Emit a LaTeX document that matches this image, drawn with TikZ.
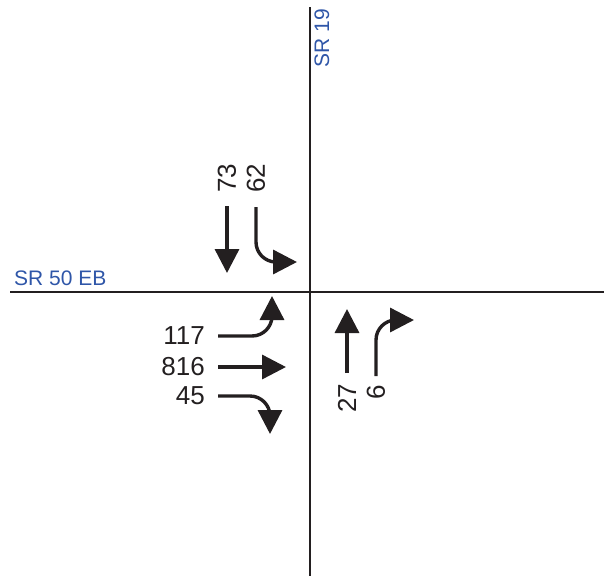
\documentclass[tikz,border=0pt]{standalone}
\usepackage{fontspec}
\setmainfont{Liberation Sans}
\usepackage{tikz}
\usetikzlibrary{arrows.meta}
\definecolor{cInk}{HTML}{231F20}
\definecolor{cRoadName}{HTML}{2F56A8}
\tikzset{
  road/.style={line width=2.6pt,color=cInk},
  mv/.style={-{Triangle[length=24pt,width=24pt]},line width=3.4pt,color=cInk,rounded corners=20pt},
  vol/.style={font=\fontsize{26}{26}\selectfont,text=cInk,inner sep=0pt},
  rname/.style={font=\fontsize{21}{21}\selectfont,text=cRoadName,inner sep=0pt},
}

\begin{document}
\begin{tikzpicture}[x=1pt,y=-1pt]
  \useasboundingbox (0,0) rectangle (604,576);
  % roads
  \coordinate (rdW) at (10,292);
  \coordinate (rdE) at (604,292);
  \coordinate (rdN) at (310,7);
  \coordinate (rdS) at (310,576);
  \draw[road] (rdW) -- (rdE);
  \draw[road] (rdN) -- (rdS);
  \node[rname,anchor=west] (nEB) at (14,278) {SR 50 EB};
  \node[rname,rotate=90] (nSR) at (322,38) {SR 19};
  % southbound
  \node[vol,rotate=90] (n73) at (227,178) {73};
  \node[vol,rotate=90] (n62) at (256,178) {62};
  \coordinate (s73) at (227,206); \coordinate (e73) at (227,273);
  \coordinate (s62) at (256,207); \coordinate (e62) at (297,262);
  \draw[mv] (s73) -- (e73);
  \draw[mv] (s62) |- (e62);
  % eastbound
  \foreach \v/\y in {117/336,816/367,45/396}{
    \node[vol,anchor=east] (n\v) at (205,\y) {\v};
    \coordinate (s\v) at (218,\y);
  }
  \coordinate (e117) at (272,296);
  \coordinate (e816) at (286,367);
  \coordinate (e45) at (270,434);
  \draw[mv] (s117) -| (e117);
  \draw[mv] (s816) -- (e816);
  \draw[mv] (s45) -| (e45);
  % northbound
  \node[vol,rotate=90] (n27) at (347,398) {27};
  \node[vol,rotate=90] (n6) at (376,392) {6};
  \coordinate (s27) at (347,373); \coordinate (e27) at (347,309);
  \coordinate (s6) at (376,376); \coordinate (e6) at (414,320);
  \draw[mv] (s27) -- (e27);
  \draw[mv] (s6) |- (e6);
\end{tikzpicture}
\end{document}
